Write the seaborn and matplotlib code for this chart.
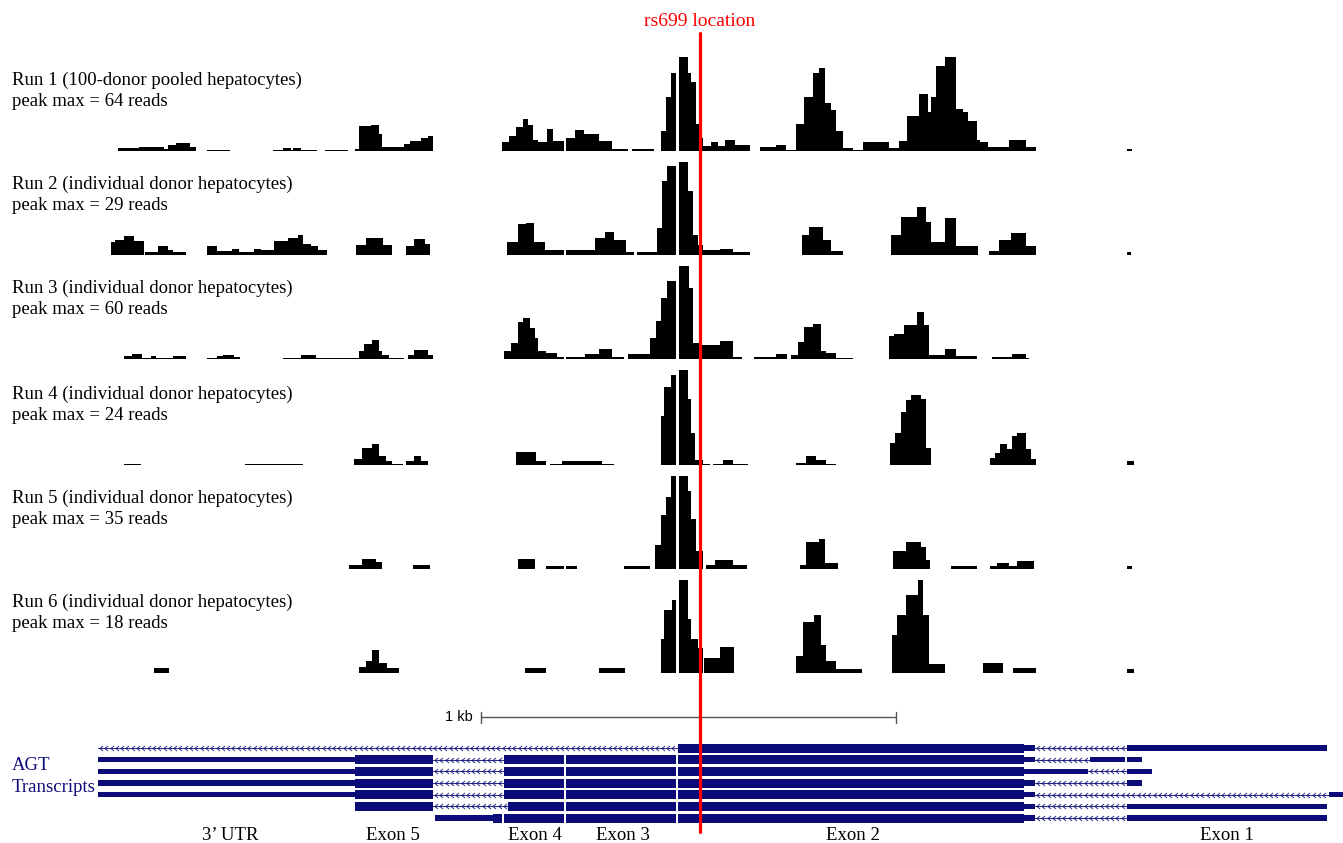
import numpy as np
import pandas as pd
import seaborn as sns
import matplotlib.pyplot as plt

# coverage segments per run: (start, end, % of that run's peak max)
# positions are in track units (1 kb = 415 units)
run1 = [(118, 139, 3), (139, 164, 4), (164, 168, 2), (168, 176, 6), (176, 190, 8), (190, 196, 4),
        (207, 230, 1),
        (273, 283, 1), (283, 291, 3), (291, 293, 1), (293, 301, 3), (301, 317, 1),
        (325, 348, 1),
        (355, 359, 2), (359, 371, 26), (371, 379, 27), (379, 382, 18), (382, 404, 4), (404, 410, 7),
        (410, 421, 11), (421, 428, 14), (428, 433, 16),
        (502, 509, 9), (509, 516, 16), (516, 523, 25), (523, 528, 34), (528, 533, 27), (533, 538, 12),
        (538, 547, 9), (547, 553, 23), (553, 564, 11), (566, 575, 14), (575, 584, 22), (584, 599, 18),
        (599, 612, 11), (612, 628, 2),
        (632, 654, 2),
        (661, 666, 21), (666, 671, 57), (671, 676, 82), (679, 688, 99), (688, 691, 82), (691, 696, 73),
        (696, 699, 28), (699, 703, 14), (703, 711, 5), (711, 718, 9), (718, 725, 5), (725, 735, 12),
        (735, 750, 6),
        (760, 776, 4), (776, 786, 6), (786, 796, 1), (796, 804, 28), (804, 813, 57), (813, 819, 82),
        (819, 825, 87), (825, 831, 51), (831, 836, 43), (836, 843, 21), (843, 853, 3), (853, 863, 1),
        (863, 889, 9), (889, 899, 3), (899, 907, 11), (907, 919, 37), (919, 928, 60), (928, 931, 41),
        (931, 936, 57), (936, 945, 89), (945, 956, 99), (956, 963, 44), (963, 968, 41), (968, 977, 32),
        (977, 980, 12), (980, 988, 9), (988, 1009, 4), (1009, 1026, 12), (1026, 1036, 4),
        (1127, 1132, 2)]

run2 = [(111, 115, 14), (115, 124, 16), (124, 134, 20), (134, 144, 15),
        (145, 158, 3), (158, 168, 10), (168, 173, 5), (173, 186, 3),
        (207, 217, 10), (217, 232, 4), (232, 239, 6), (239, 254, 3), (254, 261, 6), (261, 274, 5),
        (274, 288, 15), (288, 298, 18), (298, 303, 21), (303, 311, 12), (311, 318, 9), (318, 327, 5),
        (356, 366, 11), (366, 383, 18), (383, 392, 11),
        (406, 414, 10), (414, 425, 17), (425, 430, 12),
        (507, 518, 14), (518, 526, 33), (526, 534, 34), (534, 545, 14), (545, 564, 5),
        (566, 595, 5), (595, 605, 18), (605, 614, 24), (614, 626, 16), (626, 634, 3),
        (637, 657, 3),
        (657, 662, 28), (662, 667, 78), (667, 676, 94), (679, 688, 98), (688, 693, 67), (693, 698, 21),
        (698, 703, 11), (703, 720, 5), (720, 733, 6), (733, 750, 3),
        (802, 809, 21), (809, 823, 30), (823, 831, 16), (831, 843, 4),
        (891, 901, 21), (901, 917, 40), (917, 926, 51), (926, 931, 35), (931, 945, 14), (945, 956, 39),
        (956, 978, 10),
        (989, 999, 4), (999, 1011, 16), (1011, 1026, 23), (1026, 1036, 9),
        (1127, 1131, 3)]

run3 = [(124, 132, 3), (132, 142, 5), (142, 151, 1), (151, 156, 3), (156, 173, 1), (173, 186, 3),
        (207, 217, 1), (217, 223, 3), (223, 234, 4), (234, 240, 2),
        (283, 301, 1), (301, 316, 4), (316, 359, 1), (359, 364, 8), (364, 372, 16), (372, 379, 20),
        (379, 382, 8), (382, 389, 4), (389, 404, 1),
        (408, 414, 4), (414, 428, 10), (428, 433, 4),
        (504, 511, 8), (511, 518, 17), (518, 523, 39), (523, 530, 43), (530, 535, 33), (535, 538, 22),
        (538, 546, 8), (546, 557, 6), (557, 564, 2), (566, 585, 2), (585, 599, 5), (599, 612, 11),
        (612, 624, 2),
        (628, 650, 5),
        (650, 656, 22), (656, 661, 40), (661, 667, 64), (667, 676, 82), (679, 689, 98), (689, 693, 75),
        (693, 699, 17), (699, 720, 15), (720, 733, 19), (733, 742, 2),
        (754, 776, 2), (776, 787, 5),
        (791, 798, 4), (798, 804, 18), (804, 813, 34), (813, 821, 37), (821, 826, 8), (826, 836, 6),
        (836, 853, 1),
        (889, 894, 24), (894, 904, 26), (904, 917, 36), (917, 924, 49), (924, 929, 36), (929, 945, 4),
        (945, 956, 11), (956, 977, 3),
        (992, 1012, 2), (1012, 1026, 5), (1026, 1029, 1)]

run4 = [(124, 141, 1),
        (245, 303, 1),
        (354, 362, 6), (362, 372, 18), (372, 379, 22), (379, 386, 10), (386, 392, 4), (392, 403, 1),
        (406, 414, 4), (414, 421, 10), (421, 428, 4),
        (516, 536, 14), (536, 546, 4),
        (550, 562, 1), (562, 602, 4), (602, 614, 1),
        (661, 664, 52), (664, 671, 82), (671, 676, 95), (679, 688, 100), (688, 691, 70), (691, 695, 34),
        (695, 703, 5), (703, 710, 1),
        (713, 723, 1), (723, 733, 5), (733, 748, 1),
        (796, 806, 2), (806, 816, 10), (816, 826, 5), (826, 836, 1),
        (890, 895, 23), (895, 901, 34), (901, 906, 56), (906, 911, 68), (911, 921, 74), (921, 926, 70),
        (926, 931, 18),
        (990, 995, 7), (995, 1000, 13), (1000, 1007, 22), (1007, 1012, 17), (1012, 1017, 31),
        (1017, 1026, 34), (1026, 1031, 17), (1031, 1036, 6),
        (1127, 1134, 4)]

run5 = [(349, 362, 4), (362, 376, 11), (376, 382, 7),
        (413, 430, 4),
        (518, 535, 11),
        (546, 564, 3), (566, 577, 3),
        (624, 650, 3),
        (655, 661, 25), (661, 666, 57), (666, 671, 76), (671, 676, 98), (679, 688, 98), (688, 691, 82),
        (691, 696, 53), (696, 703, 19),
        (706, 715, 4), (715, 733, 9), (733, 747, 4),
        (800, 806, 4), (806, 819, 28), (819, 825, 32), (825, 838, 6),
        (893, 906, 19), (906, 921, 28), (921, 926, 23), (926, 930, 9),
        (951, 977, 3),
        (990, 997, 3), (997, 1009, 6), (1009, 1017, 3), (1017, 1034, 8),
        (1127, 1132, 3)]

run6 = [(154, 169, 5),
        (359, 366, 6), (366, 372, 13), (372, 379, 24), (379, 387, 11), (387, 399, 5),
        (525, 546, 5),
        (599, 625, 5),
        (661, 664, 36), (664, 672, 66), (672, 676, 77), (679, 688, 98), (688, 691, 57), (691, 698, 36),
        (698, 703, 26), (704, 720, 16), (720, 734, 27),
        (796, 803, 18), (803, 814, 54), (814, 821, 61), (821, 826, 29), (826, 836, 13), (836, 862, 4),
        (892, 897, 40), (897, 906, 61), (906, 918, 82), (918, 923, 98), (923, 929, 61), (929, 945, 10),
        (983, 1003, 11),
        (1013, 1036, 5),
        (1127, 1134, 4)]

runs = [run1, run2, run3, run4, run5, run6]
run_names = ["Run 1 (100-donor pooled hepatocytes)",
             "Run 2 (individual donor hepatocytes)",
             "Run 3 (individual donor hepatocytes)",
             "Run 4 (individual donor hepatocytes)",
             "Run 5 (individual donor hepatocytes)",
             "Run 6 (individual donor hepatocytes)"]
peak_max = [64, 29, 60, 24, 35, 18]

# AGT transcripts: (start, end, kind)
transcripts = [
    [(98, 678, "intron"), (678, 1024, "cds"), (1024, 1035, "utr"), (1035, 1127, "intron"), (1127, 1327, "utr")],
    [(98, 355, "utr"), (355, 433, "cds"), (433, 504, "intron"), (504, 564, "cds"), (566, 676, "cds"),
     (678, 1024, "cds"), (1024, 1035, "utr"), (1035, 1090, "intron"), (1090, 1125, "utr"), (1127, 1142, "utr")],
    [(98, 355, "utr"), (355, 433, "cds"), (433, 504, "intron"), (504, 564, "cds"), (566, 676, "cds"),
     (678, 1024, "cds"), (1024, 1088, "utr"), (1088, 1127, "intron"), (1127, 1152, "utr")],
    [(98, 355, "utr"), (355, 433, "cds"), (433, 504, "intron"), (504, 564, "cds"), (566, 676, "cds"),
     (678, 1024, "cds"), (1024, 1035, "utr"), (1035, 1127, "intron"), (1127, 1142, "utr")],
    [(98, 355, "utr"), (355, 433, "cds"), (433, 504, "intron"), (504, 564, "cds"), (566, 676, "cds"),
     (678, 1024, "cds"), (1024, 1035, "utr"), (1035, 1329, "intron"), (1329, 1343, "utr")],
    [(355, 433, "cds"), (433, 508, "intron"), (508, 564, "cds"), (566, 676, "cds"),
     (678, 1024, "cds"), (1024, 1035, "utr"), (1035, 1127, "intron"), (1127, 1327, "utr")],
    [(435, 493, "utr"), (493, 502, "cds"), (504, 564, "cds"), (566, 676, "cds"),
     (678, 1024, "cds"), (1024, 1035, "utr"), (1035, 1127, "intron"), (1127, 1327, "utr")],
]
exon_labels = ["3\u2019 UTR", "Exon 5", "Exon 4", "Exon 3", "Exon 2", "Exon 1"]
exon_label_pos = [230, 393, 535, 623, 853, 1227]
snp_pos = 700
scale_bar = (481, 896)

NAVY = "#0c0c78"
W, H = 1343, 843

sns.set_style("white")
plt.rcParams["font.family"] = ["Liberation Serif", "DejaVu Serif"]
plt.rcParams["text.color"] = "black"


def to_bins(segs):
    edges, pct = [segs[0][0]], []
    for start, end, val in segs:
        if start > edges[-1]:
            edges.append(start)
            pct.append(0)
        edges.append(end)
        pct.append(val)
    return [float(e) for e in edges], pct


fig = plt.figure(figsize=(W / 100, H / 100), dpi=100)

track_base = [151, 255, 359, 465, 569, 673]
track_h = 95
for i, segs in enumerate(runs):
    ax = fig.add_axes([0, 1 - track_base[i] / H, 1, track_h / H])
    edges, pct = to_bins(segs)
    mids = [(a + b) / 2 for a, b in zip(edges[:-1], edges[1:])]
    df = pd.DataFrame({"pos": mids, "pct": pct})
    sns.histplot(data=df, x="pos", weights="pct", bins=edges, element="step", fill=True,
                 color="black", alpha=1, linewidth=0, ax=ax)
    ax.set_xlim(0, W)
    ax.set_ylim(0, 100)
    ax.axis("off")

ov = fig.add_axes([0, 0, 1, 1], facecolor="none")
ov.set_xlim(0, W)
ov.set_ylim(H, 0)
ov.axis("off")

for i, name in enumerate(run_names):
    y0 = track_base[i] - 71
    ov.text(12, y0, name, fontsize=13.5, va="center", ha="left")
    ov.text(12, y0 + 22, f"peak max = {peak_max[i]} reads", fontsize=13.5, va="center", ha="left")

# scale bar
ov.plot(scale_bar, [717, 717], color="#555555", lw=1)
for xb in scale_bar:
    ov.plot([xb, xb], [712, 723], color="#555555", lw=1)
ov.text(scale_bar[0] - 8, 717, "1 kb", fontsize=10.5, va="center", ha="right", family="Liberation Sans")

# transcripts
chev = [(0.6, 1), (-0.6, 0), (0.6, -1)]
for row, blocks in enumerate(transcripts):
    y = 748 + 11.67 * row
    for start, end, kind in blocks:
        if kind == "intron":
            ov.plot([start, end], [y, y], color=NAVY, lw=0.8, alpha=0.85)
            xs = np.arange(start + 3, end - 1, 5.3)
            ov.plot(xs, np.full_like(xs, y), ls="none", marker=chev, ms=3.6,
                    mec=NAVY, mfc="none", mew=0.7, alpha=0.85)
        else:
            h = 9 if kind == "cds" else 5.5
            ov.broken_barh([(start, end - start)], (y - h / 2, h), color=NAVY, lw=0)

ov.text(12, 766, "AGT", fontsize=13.5, color=NAVY, va="center", ha="left")
ov.text(12, 788, "Transcripts", fontsize=13.5, color=NAVY, va="center", ha="left")

for lab, xp in zip(exon_labels, exon_label_pos):
    ov.text(xp, 835, lab, fontsize=13.5, va="center", ha="center")

# rs699 marker
ov.plot([snp_pos, snp_pos], [33, 832], color="#ff0000", lw=2.3, zorder=10)
ov.text(snp_pos, 21, "rs699 location", color="#ff0000", fontsize=14, va="center", ha="center")

fig.savefig("out.png", dpi=100, facecolor="white")
